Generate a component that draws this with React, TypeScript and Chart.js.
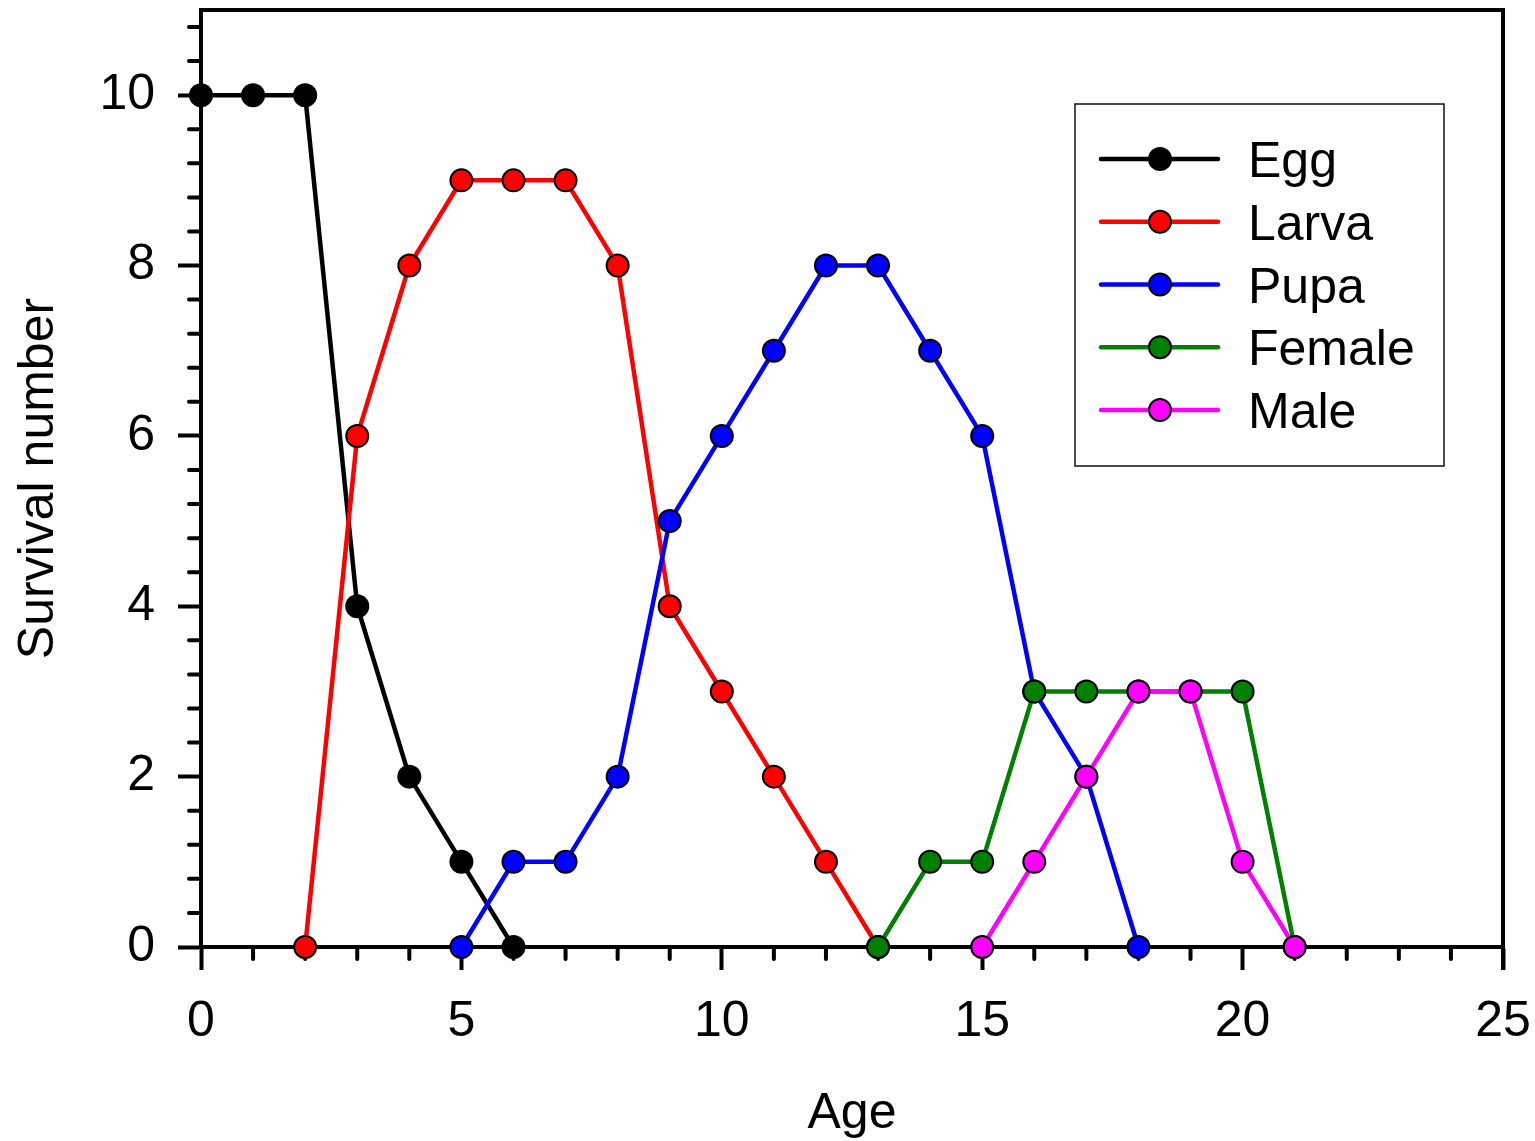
import React, { useEffect, useRef } from 'react';
import { Chart, registerables } from 'chart.js';

Chart.register(...registerables);

const FONT = '"Liberation Sans", Arial, Helvetica, sans-serif';

// ---- data ----
const eggAges = [0, 1, 2, 3, 4, 5, 6];
const eggValues = [10, 10, 10, 4, 2, 1, 0];
const larvaAges = [2, 3, 4, 5, 6, 7, 8, 9, 10, 11, 12, 13];
const larvaValues = [0, 6, 8, 9, 9, 9, 8, 4, 3, 2, 1, 0];
const pupaAges = [5, 6, 7, 8, 9, 10, 11, 12, 13, 14, 15, 16, 17, 18];
const pupaValues = [0, 1, 1, 2, 5, 6, 7, 8, 8, 7, 6, 3, 2, 0];
const femaleAges = [13, 14, 15, 16, 17, 18, 19, 20, 21];
const femaleValues = [0, 1, 1, 3, 3, 3, 3, 3, 0];
const maleAges = [15, 16, 17, 18, 19, 20, 21];
const maleValues = [0, 1, 2, 3, 3, 1, 0];

const seriesNames = ['Egg', 'Larva', 'Pupa', 'Female', 'Male'];
const seriesColors = ['#000000', '#ff0000', '#0000ff', '#008000', '#ff00ff'];

const xTickLabels = [0, 5, 10, 15, 20, 25];
const yTickLabels = [0, 2, 4, 6, 8, 10];
const xMinorStep = 1;
const yMinorStep = 0.4;
const xMin = 0;
const xMax = 25;
const yMin = 0;
const yMax = 11;

const xTitle = 'Age';
const yTitle = 'Survival number';

function toPoints(xs: number[], ys: number[]) {
  return xs.map((x, i) => ({ x, y: ys[i] }));
}

const seriesData = [
  toPoints(eggAges, eggValues),
  toPoints(larvaAges, larvaValues),
  toPoints(pupaAges, pupaValues),
  toPoints(femaleAges, femaleValues),
  toPoints(maleAges, maleValues),
];

const decoPlugin = {
  id: 'deco',
  beforeDatasetsDraw(chart: any) {
    const { ctx, chartArea: a, scales } = chart;
    ctx.save();
    ctx.strokeStyle = '#000';
    ctx.lineWidth = 4;
    ctx.lineJoin = 'miter';
    ctx.beginPath();
    ctx.moveTo(a.left - 2, a.top);
    ctx.lineTo(a.right, a.top);
    ctx.lineTo(a.right, a.bottom + 23);
    ctx.stroke();

    ctx.lineCap = 'round';
    const xs = scales.x;
    const ys = scales.y;
    const nx = Math.round((xMax - xMin) / xMinorStep);
    for (let i = 0; i <= nx; i++) {
      const v = xMin + i * xMinorStep;
      if (xTickLabels.some((t) => Math.abs(t - v) < 1e-6)) continue;
      const px = xs.getPixelForValue(v);
      ctx.beginPath();
      ctx.moveTo(px, a.bottom);
      ctx.lineTo(px, a.bottom + 12);
      ctx.stroke();
    }
    const ny = Math.floor((yMax - yMin) / yMinorStep + 1e-6);
    for (let i = 0; i <= ny; i++) {
      const v = yMin + i * yMinorStep;
      if (yTickLabels.some((t) => Math.abs(t - v) < 1e-6)) continue;
      const py = ys.getPixelForValue(v);
      ctx.beginPath();
      ctx.moveTo(a.left, py);
      ctx.lineTo(a.left - 12, py);
      ctx.stroke();
    }
    ctx.restore();
  },
  afterDatasetsDraw(chart: any) {
    const { ctx } = chart;
    ctx.save();
    const bx = 1075;
    const by = 104;
    const bw = 369;
    const bh = 362;
    ctx.strokeStyle = '#111';
    ctx.lineWidth = 1.5;
    ctx.strokeRect(bx, by, bw, bh);
    seriesNames.forEach((name, i) => {
      const cy = 159 + i * 62.75;
      ctx.strokeStyle = seriesColors[i];
      ctx.lineWidth = 4.5;
      ctx.lineCap = 'round';
      ctx.beginPath();
      ctx.moveTo(1101, cy);
      ctx.lineTo(1218, cy);
      ctx.stroke();
      ctx.beginPath();
      ctx.arc(1160, cy, i === 0 ? 12 : 11, 0, Math.PI * 2);
      ctx.fillStyle = seriesColors[i];
      ctx.fill();
      if (i !== 0) {
        ctx.strokeStyle = '#000';
        ctx.lineWidth = 2;
        ctx.stroke();
      }
      ctx.fillStyle = '#000';
      ctx.font = `50px ${FONT}`;
      ctx.textAlign = 'left';
      ctx.textBaseline = 'alphabetic';
      ctx.fillText(name, 1248, cy + 18);
    });
    ctx.restore();
  },
};

export default function App() {
  const canvasRef = useRef<HTMLCanvasElement | null>(null);

  useEffect(() => {
    const canvas = canvasRef.current;
    if (!canvas) return;
    const datasets = seriesNames.map((name, i) => ({
      label: name,
      data: seriesData[i],
      borderColor: seriesColors[i],
      backgroundColor: seriesColors[i],
      borderWidth: 4.5,
      pointRadius: i === 0 ? 12 : 11,
      pointBorderWidth: i === 0 ? 0 : 2,
      pointBorderColor: '#000000',
      pointBackgroundColor: seriesColors[i],
      pointStyle: 'circle',
      tension: 0,
      clip: false as any,
      order: seriesNames.length - i,
    }));

    const chart = new Chart(canvas, {
      type: 'line',
      data: { datasets },
      plugins: [decoPlugin],
      options: {
        animation: false,
        responsive: false,
        devicePixelRatio: 1,
        events: [],
        layout: { autoPadding: false, padding: { left: 0, top: 10, right: 32, bottom: 0 } },
        plugins: {
          legend: { display: false },
          tooltip: { enabled: false },
        },
        scales: {
          x: {
            type: 'linear',
            min: xMin,
            max: xMax,
            afterBuildTicks: (scale: any) => {
              scale.ticks = xTickLabels.map((v) => ({ value: v }));
            },
            afterFit: (scale: any) => {
              scale.height = 194;
              scale.paddingLeft = 0;
              scale.paddingRight = 0;
            },
            ticks: {
              autoSkip: false,
              maxRotation: 0,
              minRotation: 0,
              padding: 22,
              color: '#000',
              font: { family: FONT, size: 50 },
              callback: (v: any) => String(v),
            },
            grid: {
              display: true,
              drawOnChartArea: false,
              drawTicks: true,
              tickLength: 23,
              tickWidth: 4,
              tickColor: '#000',
            },
            border: { display: true, color: '#000', width: 4 },
            title: {
              display: true,
              text: xTitle,
              color: '#000',
              font: { family: FONT, size: 50, lineHeight: 1 },
              padding: { top: 0, bottom: 2 },
            },
          },
          y: {
            type: 'linear',
            min: yMin,
            max: yMax,
            afterBuildTicks: (scale: any) => {
              scale.ticks = yTickLabels.map((v) => ({ value: v }));
            },
            afterFit: (scale: any) => {
              scale.width = 201;
              scale.paddingTop = 0;
              scale.paddingBottom = 0;
            },
            ticks: {
              autoSkip: false,
              padding: 23,
              color: '#000',
              font: { family: FONT, size: 50 },
              callback: (v: any) => String(v),
            },
            grid: {
              display: true,
              drawOnChartArea: false,
              drawTicks: true,
              tickLength: 23,
              tickWidth: 4,
              tickColor: '#000',
            },
            border: { display: true, color: '#000', width: 4 },
            title: {
              display: true,
              text: yTitle,
              color: '#000',
              font: { family: FONT, size: 50, lineHeight: 1 },
              padding: { top: 14, bottom: 0 },
            },
          },
        },
      } as any,
    });
    return () => chart.destroy();
  }, []);

  return (
    <div style={{ position: 'absolute', left: 0, top: 0, width: 1535, height: 1141, background: '#fff' }}>
      <canvas ref={canvasRef} width={1535} height={1141} style={{ display: 'block' }} />
    </div>
  );
}
